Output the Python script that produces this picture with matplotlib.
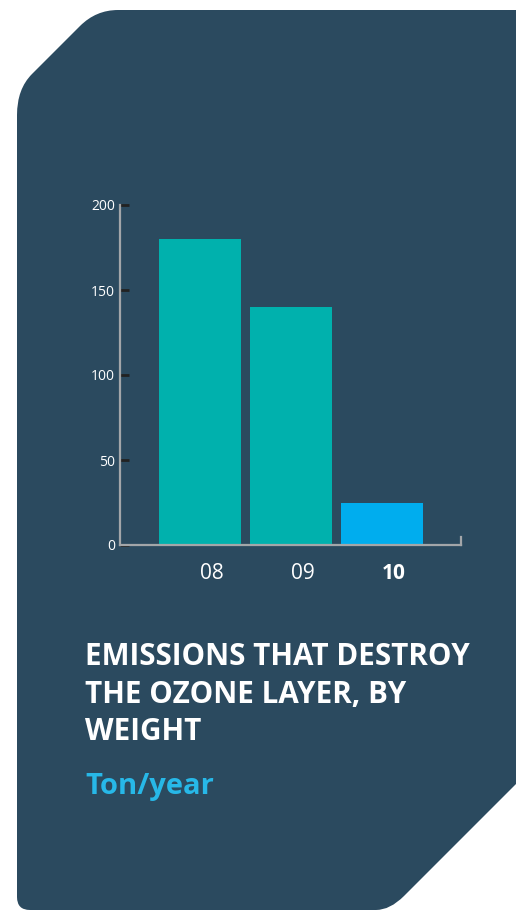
import numpy as np
import matplotlib
matplotlib.use("Agg")
import matplotlib.pyplot as plt
from matplotlib.path import Path
from matplotlib.patches import PathPatch
from matplotlib.transforms import ScaledTranslation

years = ["08", "09", "10"]
tons = [180, 140, 25]
bar_colors = ["#00B1AD", "#00B1AD", "#00ADEE"]
title = "EMISSIONS THAT DESTROY\nTHE OZONE LAYER, BY\nWEIGHT"
unit = "Ton/year"

W, H = 516, 910
panel_color = "#2B4A5F"

plt.rcParams["font.family"] = ["Open Sans", "DejaVu Sans"]

fig = plt.figure(figsize=(W / 100, H / 100), dpi=100)
fig.patch.set_facecolor("white")


def px(x, y):
    # pixel coords (origin top-left) -> figure fraction
    return (x / W, 1 - y / H)


# background panel with a cut top-left and bottom-right corner
verts = [
    px(17, 115), px(17, 89), px(32, 74),          # rounded into diagonal
    px(80, 26), px(96, 10), px(118, 10),          # rounded into top edge
    px(530, 10),
    px(530, 770),
    px(404, 896), px(390, 910), px(376, 910),     # rounded bottom-right cut
    px(30, 910), px(17, 910), px(17, 897),        # bottom-left corner
    px(17, 115),
]
codes = [Path.MOVETO, Path.CURVE3, Path.CURVE3,
         Path.LINETO, Path.CURVE3, Path.CURVE3,
         Path.LINETO,
         Path.LINETO,
         Path.LINETO, Path.CURVE3, Path.CURVE3,
         Path.LINETO, Path.CURVE3, Path.CURVE3,
         Path.CLOSEPOLY]
fig.add_artist(PathPatch(Path(verts, codes), facecolor=panel_color,
                         edgecolor="none", transform=fig.transFigure, zorder=0))

# chart area
ax = fig.add_axes([120 / W, 1 - 545 / H, 341 / W, 340 / H])
ax.set_facecolor("none")
x = np.arange(len(years))
ax.bar(x, tons, width=0.9, color=bar_colors, zorder=2)
ax.set_xlim(-0.879, 2.868)
ax.set_ylim(0, 200)

axis_gray = "#A3A6A9"
ax.spines["top"].set_visible(False)
for s in ["left", "bottom", "right"]:
    ax.spines[s].set_color(axis_gray)
    ax.spines[s].set_linewidth(1.6)
ax.spines["right"].set_bounds(0, 5)

ax.set_yticks([0, 50, 100, 150, 200])
ax.tick_params(axis="y", direction="in", length=6.5, width=2,
               color="#222222", labelcolor="white", labelsize=10, pad=3.5)
ax.set_xticks(x)
ax.set_xticklabels(years)
ax.tick_params(axis="x", length=0, labelcolor="white", labelsize=15, pad=13)
offset = ScaledTranslation(0.12, 0, fig.dpi_scale_trans)
for lab in ax.get_xticklabels():
    lab.set_transform(lab.get_transform() + offset)
ax.get_xticklabels()[-1].set_fontweight("bold")

fig.text(85 / W, 1 - 642 / H, title, color="white", fontsize=21.3,
         fontweight="bold", va="top", ha="left", linespacing=1.33)
fig.text(85 / W, 1 - 794 / H, unit, color="#27B8E8", fontsize=21,
         fontweight="bold", va="baseline", ha="left")

fig.savefig("out.png", dpi=100, facecolor=fig.get_facecolor())
